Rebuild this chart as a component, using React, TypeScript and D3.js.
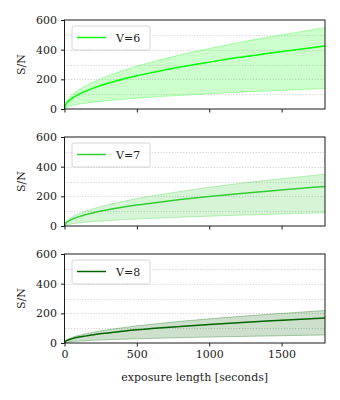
import React, { useEffect, useRef } from "react";
import * as d3 from "d3";

// exposure times (seconds)
const exposure = [0, 10, 25, 50, 100, 150, 200, 300, 400, 500, 600, 800, 1000, 1200, 1400, 1600, 1800];

// V=6
const v6Mid = [0, 32, 50, 71, 100, 122, 141, 173, 200, 224, 245, 283, 316, 347, 374, 400, 425];
const v6Hi = [0, 41, 65, 92, 129, 158, 182, 223, 258, 289, 316, 365, 408, 447, 483, 516, 548];
const v6Lo = [0, 10, 16, 23, 33, 40, 46, 56, 65, 73, 80, 92, 103, 113, 122, 130, 138];

// V=7
const v7Mid = [0, 20, 31, 45, 63, 77, 89, 109, 126, 141, 154, 178, 199, 218, 235, 251, 267];
const v7Hi = [0, 26, 41, 59, 83, 101, 117, 143, 165, 185, 202, 233, 261, 286, 308, 329, 349];
const v7Lo = [0, 7, 10, 15, 21, 26, 30, 36, 42, 47, 51, 59, 66, 73, 78, 84, 89];

// V=8
const v8Mid = [0, 13, 20, 28, 40, 48, 56, 68, 79, 89, 97, 112, 125, 137, 148, 158, 168];
const v8Hi = [0, 17, 26, 37, 52, 63, 73, 89, 103, 116, 126, 146, 163, 178, 193, 206, 219];
const v8Lo = [0, 4, 6, 9, 13, 15, 18, 22, 25, 28, 31, 36, 40, 44, 47, 51, 54];

const labels = ["V=6", "V=7", "V=8"];
const colors = ["#00ff00", "#32cd32", "#006400"];
const yTicks = [0, 200, 400, 600];
const gridVals = [100, 200, 300, 400, 500];
const xTicks = [0, 500, 1000, 1500];

const panels = [
  { label: labels[0], color: colors[0], mid: v6Mid, hi: v6Hi, lo: v6Lo },
  { label: labels[1], color: colors[1], mid: v7Mid, hi: v7Hi, lo: v7Lo },
  { label: labels[2], color: colors[2], mid: v8Mid, hi: v8Hi, lo: v8Lo },
];

const FONT = "DejaVu Serif";
const FS = 11;

function Chart() {
  const node = useRef<SVGSVGElement | null>(null);

  useEffect(() => {
    const svg = d3.select(node.current);
    svg.selectAll("*").remove();

    const left = 64.5, right = 325;
    const panelH = 89;
    const tops = [20, 137, 254];

    const x = d3.scaleLinear().domain([0, 1800]).range([left, right]);

    const styleText = (sel: any) =>
      sel.style("font-family", FONT).style("font-size", FS + "px").attr("fill", "#222");

    panels.forEach((p, i) => {
      const top = tops[i];
      const y = d3.scaleLinear().domain([0, 600]).range([top + panelH, top]);
      const g = svg.append("g");

      // dotted grid
      g.selectAll("line.grid")
        .data(gridVals)
        .enter()
        .append("line")
        .attr("x1", left + 1)
        .attr("x2", right)
        .attr("y1", (d) => Math.round(y(d)) + 0.5)
        .attr("y2", (d) => Math.round(y(d)) + 0.5)
        .attr("stroke", "#cccccc")
        .attr("stroke-width", 1)
        .attr("stroke-dasharray", "1,1.8");

      const pts = exposure.map((t, k) => ({ t, m: p.mid[k], h: p.hi[k], l: p.lo[k] }));

      const area = d3
        .area<any>()
        .x((d) => x(d.t))
        .y0((d) => y(d.l))
        .y1((d) => y(d.h))
        .curve(d3.curveMonotoneX);
      g.append("path")
        .attr("d", area(pts))
        .attr("fill", p.color)
        .attr("fill-opacity", 0.2);

      const edge = (key: string) =>
        d3
          .line<any>()
          .x((d) => x(d.t))
          .y((d) => y(d[key]))
          .curve(d3.curveMonotoneX);
      ["h", "l"].forEach((k) => {
        g.append("path")
          .attr("d", edge(k)(pts))
          .attr("fill", "none")
          .attr("stroke", p.color)
          .attr("stroke-opacity", 0.3)
          .attr("stroke-width", 1);
      });
      g.append("path")
        .attr("d", edge("m")(pts))
        .attr("fill", "none")
        .attr("stroke", p.color)
        .attr("stroke-width", 1.5);

      // frame
      g.append("rect")
        .attr("x", left)
        .attr("y", top)
        .attr("width", right - left)
        .attr("height", panelH)
        .attr("fill", "none")
        .attr("stroke", "#1a1a1a")
        .attr("stroke-width", 1);

      // y axis
      const yAxis = g.append("g").attr("transform", `translate(${left},0)`)
        .call(d3.axisLeft(y).tickValues(yTicks).tickSize(3.5).tickPadding(4));
      yAxis.select(".domain").remove();
      styleText(yAxis.selectAll("text"));
      yAxis.selectAll("line").attr("stroke", "#1a1a1a");

      // x axis
      const xAxis = g.append("g").attr("transform", `translate(0,${top + panelH})`)
        .call(d3.axisBottom(x).tickValues(xTicks).tickSize(3.5).tickPadding(4)
          .tickFormat(i === 2 ? (d3.format("d") as any) : () => ""));
      xAxis.select(".domain").remove();
      styleText(xAxis.selectAll("text"));
      xAxis.selectAll("line").attr("stroke", "#1a1a1a");

      // y label
      styleText(
        g.append("text")
          .attr("transform", `translate(25,${top + panelH / 2})rotate(-90)`)
          .attr("text-anchor", "middle")
          .text("S/N")
      );

      // legend
      g.append("rect")
        .attr("x", 72)
        .attr("y", top + 6)
        .attr("width", 78)
        .attr("height", 24)
        .attr("rx", 2)
        .attr("fill", "white")
        .attr("fill-opacity", 0.8)
        .attr("stroke", "#cccccc")
        .attr("stroke-width", 0.8);
      g.append("line")
        .attr("x1", 77)
        .attr("x2", 106)
        .attr("y1", top + 17.5)
        .attr("y2", top + 17.5)
        .attr("stroke", p.color)
        .attr("stroke-width", 1.5);
      styleText(
        g.append("text")
          .attr("x", 116)
          .attr("y", top + 22)
          .text(p.label)
      );
    });

    styleText(
      svg.append("text")
        .attr("x", (left + right) / 2)
        .attr("y", 381)
        .attr("text-anchor", "middle")
        .text("exposure length [seconds]")
    );
  }, []);

  return <svg ref={node} width={340} height={400} style={{ display: "block" }} />;
}

export default function App() {
  return (
    <div style={{ position: "absolute", left: 0, top: 0, background: "white" }}>
      <Chart />
    </div>
  );
}
